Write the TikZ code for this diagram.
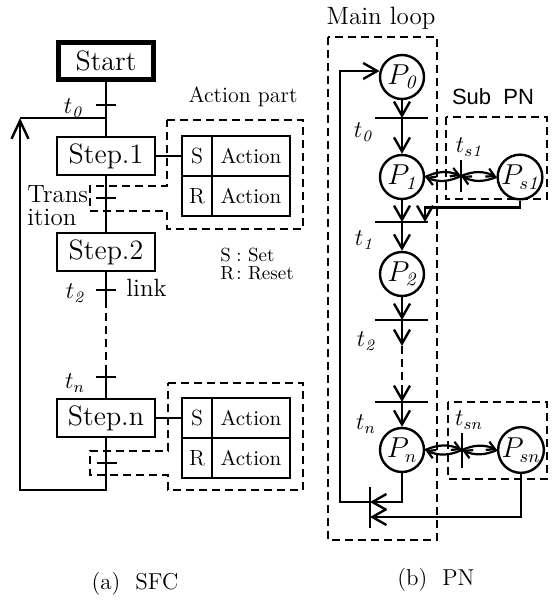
\documentclass[tikz,border=0pt]{standalone}
\usepackage{fontspec}
\setsansfont{Liberation Sans}
\usepackage{tikz}
\usetikzlibrary{positioning,arrows.meta}

\tikzset{
  stepbox/.style={draw, line width=1.2pt, minimum width=49pt, minimum height=19pt,
    inner sep=0pt, font=\fontsize{14}{16}\selectfont},
  startbox/.style={stepbox, line width=2.6pt, minimum width=47.5pt, minimum height=18.5pt},
  opcell/.style={draw, line width=1.2pt, minimum width=15pt, minimum height=20pt,
    inner sep=0pt, outer sep=0pt, font=\fontsize{11}{12}\selectfont},
  actcell/.style={opcell, minimum width=39pt, font=\fontsize{10.5}{12}\selectfont},
  place/.style={circle, draw, line width=1.2pt, minimum size=22pt, inner sep=0pt,
    font=\fontsize{13.5}{14}\selectfont},
  lbl/.style={inner sep=0pt, font=\fontsize{12}{13}\selectfont},
  wire/.style={line width=1.2pt},
  tbar/.style={line width=1.4pt},
  frame/.style={line width=1pt, dash pattern=on 4pt off 2.5pt},
  sfcarrow/.style={wire, -{Straight Barb[length=9pt,width=8.5pt,line width=1.2pt]}},
  pnarrow/.style={wire, -{Straight Barb[length=7pt,width=8pt,line width=1.2pt]}},
  rdarc/.style={line width=1.1pt, -{Straight Barb[length=4pt,width=4.5pt,line width=1.1pt]}},
}

\begin{document}
\begin{tikzpicture}[x=0.5pt, y=-0.5pt]
  \useasboundingbox (0,0) rectangle (554,605);

  % (a) SFC
  \node[startbox] (start) at (106,61) {Start};
  \node[stepbox] (step1) at (106,156) {Step.1};
  \node[stepbox] (step2) at (106,252) {Step.2};
  \node[stepbox] (stepn) at (106,418) {Step.n};

  \coordinate (tr0) at (106,105);
  \coordinate (tr1) at (106,198);
  \coordinate (tr2) at (106,290);
  \coordinate (trn) at (106,377);
  \coordinate (trx) at (107,463);
  \foreach \t in {tr0,tr1,tr2,trn,trx}
    \draw[tbar] ([xshift=-5pt]\t) -- ([xshift=5pt]\t);

  \coordinate (lk1) at (106,300);
  \coordinate (lk2) at (106,370);
  \draw[wire] (start.south) -- (step1.north);
  \draw[wire] (step1.south) -- (step2.north);
  \draw[wire] (step2.south) -- (lk1);
  \draw[wire, dash pattern=on 4pt off 2.5pt] (lk1) -- (lk2);
  \draw[wire] (lk2) -- (stepn.north);

  \coordinate (lpB) at (20,490);
  \coordinate (lpT) at (20,118);
  \coordinate (jn) at (106,118);
  \draw[sfcarrow] (stepn.south) |- (lpB) -- (lpT);
  \draw[wire] (lpT) -- (jn);

  \node[opcell] (s1S) at (197,156) {S};
  \node[actcell, right=0pt of s1S] (s1Sa) {Action};
  \node[opcell, below=0pt of s1S] (s1R) {R};
  \node[actcell, right=0pt of s1R] (s1Ra) {Action};
  \draw[wire] (step1.east) -- (s1S.west);

  \node[opcell] (snS) at (197,418) {S};
  \node[actcell, right=0pt of snS] (snSa) {Action};
  \node[opcell, below=0pt of snS] (snR) {R};
  \node[actcell, right=0pt of snR] (snRa) {Action};
  \draw[wire] (stepn.east) -- (snS.west);

  \draw[frame] (167,120) -- (303,120) -- (303,229) -- (167,229) -- (167,211)
    -- (90,211) -- (90,186) -- (167,186) -- cycle;
  \draw[frame] (168,383) -- (303,383) -- (303,490) -- (168,490) -- (168,475)
    -- (90,475) -- (90,451) -- (168,451) -- cycle;

  \node[lbl] (t0a) at (73,108) {$t_{\mathit{0}}$};
  \node[lbl] (t2a) at (75,293) {$t_{\mathit{2}}$};
  \node[lbl] (tna) at (75,383) {$t_n$};
  \node[lbl, anchor=base west, font=\fontsize{12.5}{13}\selectfont] (trA) at (27,202) {Trans};
  \node[lbl, anchor=base west, font=\fontsize{12.5}{13}\selectfont] (trB) at (27,225) {ition};
  \node[lbl, anchor=base west, font=\fontsize{12.5}{13}\selectfont] (lnk) at (126,296) {link};
  \node[lbl, font=\fontsize{11}{12}\selectfont] (actp) at (243,97) {Action part};
  \node[lbl, anchor=base west, font=\fontsize{9.5}{10}\selectfont] (keyS) at (220,261)
    {\makebox[8pt][l]{S}:\ Set};
  \node[lbl, anchor=base west, font=\fontsize{9.5}{10}\selectfont] (keyR) at (220,279)
    {\makebox[8pt][l]{R}:\ Reset};
  \node[font=\fontsize{11.5}{12}\selectfont] (capa) at (135,584) {(a)~~SFC};

  % (b) PN
  \node[place] (p0) at (402,77) {$P_{\mathit{0}}$};
  \node[place] (p1) at (402,177) {$P_{\mathit{1}}$};
  \node[place] (p2) at (402,274) {$P_{\mathit{2}}$};
  \node[place] (pn) at (402,450) {$P_n$};
  \node[place] (ps1) at (520,177) {$P_{s\mathit{1}}$};
  \node[place] (psn) at (521,450) {$P_{sn}$};

  \coordinate (tp0) at (402,118);
  \coordinate (tp1) at (402,222);
  \coordinate (tp2) at (402,320);
  \coordinate (tpn) at (402,402);
  \foreach \t in {tp0,tp1,tp2,tpn}
    \draw[tbar] ([xshift=-13.5pt]\t) -- ([xshift=13pt]\t);
  \coordinate (ts1) at (461,176);
  \coordinate (tsn) at (462,450);
  \coordinate (tbc) at (370,507.5);
  \draw[tbar] ([yshift=8pt]ts1) -- ([yshift=-8pt]ts1);
  \draw[tbar] ([yshift=8.75pt]tsn) -- ([yshift=-8.75pt]tsn);
  \draw[tbar] ([yshift=10.25pt]tbc) -- ([yshift=-10.25pt]tbc);

  \coordinate (dA) at (402,346);
  \coordinate (dB) at (402,386);
  \draw[pnarrow] (p0) -- (tp0);
  \draw[pnarrow] (tp0) -- (p1);
  \draw[pnarrow] (p1) -- (tp1);
  \draw[pnarrow] (tp1) -- (p2);
  \draw[pnarrow] (p2) -- (tp2);
  \draw[pnarrow] (tp2) -- (dA);
  \draw[wire, dash pattern=on 4pt off 2.5pt] (dA) -- (dB);
  \draw[pnarrow] (dB) -- (tpn);
  \draw[pnarrow] (tpn) -- (pn);

  \draw[rdarc] (p1.east) to[bend left=24] (ts1);
  \draw[rdarc] (ts1) to[bend left=24] (p1.east);
  \draw[rdarc] (ts1) to[bend left=24] (ps1.west);
  \draw[rdarc] (ps1.west) to[bend left=24] (ts1);
  \draw[rdarc] (pn.east) to[bend left=24] (tsn);
  \draw[rdarc] (tsn) to[bend left=24] (pn.east);
  \draw[rdarc] (tsn) to[bend left=24] (psn.west);
  \draw[rdarc] (psn.west) to[bend left=24] (tsn);

  \coordinate (t1in) at (425,222);
  \draw[pnarrow] (ps1.south) -- ++(0,7) -| (t1in);

  \coordinate (tbk) at (370,502);
  \coordinate (tbk2) at (370,517);
  \coordinate (lpb) at (340,502);
  \draw[pnarrow] (pn.south) |- (tbk);
  \draw[pnarrow] (psn.south) |- (tbk2);
  \draw[pnarrow] (tbk) -- (lpb) |- (p0.165);

  \draw[frame] (328,37) rectangle (437,540);
  \draw[frame] (446,117) rectangle (547,199);
  \draw[frame] (448,402) rectangle (547,479);

  \node[font=\fontsize{12.5}{13}\selectfont] (mainl) at (381,18) {Main loop};
  \node[font=\sffamily\fontsize{11}{12}\selectfont] (subl) at (493,97) {Sub~~PN};
  \node[lbl] (t0b) at (363,132) {$t_{\mathit{0}}$};
  \node[lbl] (t1b) at (364,240) {$t_{\mathit{1}}$};
  \node[lbl] (t2b) at (366,341) {$t_{\mathit{2}}$};
  \node[lbl] (tnb) at (366,424) {$t_n$};
  \node[lbl] (ts1b) at (469,147) {$t_{s\mathit{1}}$};
  \node[lbl] (tsnb) at (469,420) {$t_{sn}$};
  \node[font=\fontsize{11.5}{12}\selectfont] (capb) at (436,580) {(b)~~PN};
\end{tikzpicture}
\end{document}
